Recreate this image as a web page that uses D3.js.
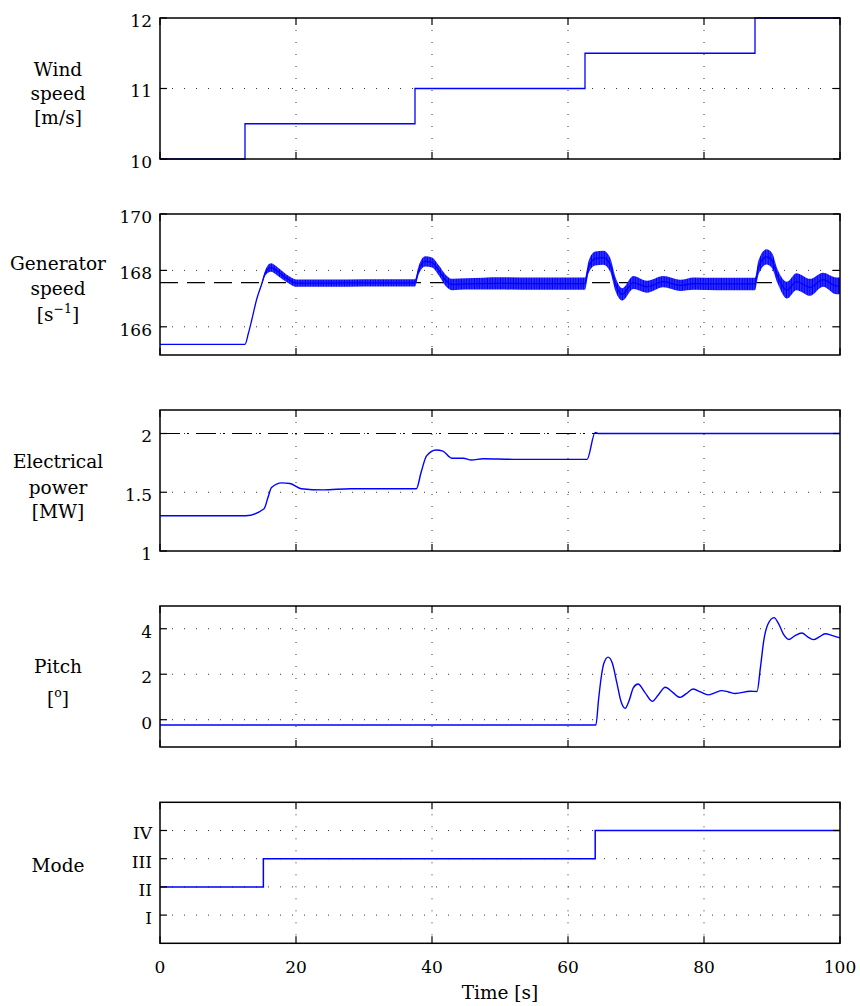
<!DOCTYPE html>
<html><head><meta charset="utf-8">
<script src="https://cdn.jsdelivr.net/npm/d3@7"></script>
<style>body{margin:0;background:#fff}svg{display:block}</style>
</head><body>
<script>
// ---------------- DATA ----------------
const xTicks = [0, 20, 40, 60, 80, 100];

// Wind speed [m/s] (steps)
const windTime = [0, 12.5, 37.5, 62.5, 87.5, 100];
const windSpeed = [10, 10.5, 11, 11.5, 12, 12];
const windTicks = [10, 11, 12];

// Generator speed [1/s]: centre of trace and half-width of the oscillation band
const genTime  = [0, 12.5, 13.0, 13.5, 14.2, 15.0, 15.5, 16.3, 17.2, 18.1, 19.0, 20.0, 25, 30, 37.5, 38.0, 39.0, 40.0, 41.0, 42.0, 43.0, 45, 50, 55, 62.5, 63.0, 64.0, 65.2, 66.2, 67.0, 68.0, 69.6, 71.6, 74.0, 76.5, 78.5, 82, 87.5, 88.0, 89.2, 90.0, 90.8, 92.2, 93.6, 95.6, 97.5, 99.5, 100];
const genSpeed = [165.38, 165.38, 165.77, 166.25, 166.96, 167.55, 167.92, 168.10, 167.98, 167.81, 167.66, 167.55, 167.55, 167.56, 167.56, 167.98, 168.32, 168.28, 168.0, 167.65, 167.5, 167.52, 167.54, 167.53, 167.53, 168.1, 168.42, 168.45, 168.2, 167.5, 167.15, 167.57, 167.42, 167.6, 167.47, 167.53, 167.52, 167.52, 168.1, 168.48, 168.35, 167.8, 167.3, 167.6, 167.4, 167.67, 167.45, 167.45];
const genBand  = [0, 0, 0, 0, 0, 0.05, 0.1, 0.15, 0.15, 0.14, 0.13, 0.13, 0.13, 0.13, 0.13, 0.15, 0.18, 0.18, 0.18, 0.2, 0.2, 0.2, 0.22, 0.22, 0.22, 0.22, 0.25, 0.25, 0.25, 0.25, 0.22, 0.23, 0.21, 0.2, 0.2, 0.22, 0.22, 0.22, 0.25, 0.27, 0.27, 0.25, 0.3, 0.3, 0.3, 0.25, 0.3, 0.3];
const genRef = 167.57;
const genTicks = [166, 168, 170];

// Electrical power [MW]
const powTime  = [0, 12.6, 15.3, 15.9, 16.4, 17.9, 19.1, 20.8, 24, 28, 37.7, 38.4, 39.2, 40.6, 41.6, 42.9, 44.6, 45.8, 47.5, 52, 62.8, 64.0, 64.4, 100];
const powValue = [1.30, 1.30, 1.36, 1.46, 1.54, 1.58, 1.575, 1.53, 1.52, 1.53, 1.53, 1.67, 1.81, 1.86, 1.85, 1.79, 1.79, 1.775, 1.785, 1.78, 1.78, 2.01, 2.0, 2.0];
const powRated = 2.0;
const powTicks = [1, 1.5, 2];

// Pitch [deg]
const pitchTime  = [0, 64.1, 64.5, 64.9, 65.3, 65.9, 66.5, 67.2, 67.8, 68.4, 69.0, 69.6, 70.3, 71.3, 72.4, 73.3, 74.3, 75.4, 76.5, 77.4, 78.4, 79.5, 80.6, 81.6, 82.6, 83.6, 84.6, 86.8, 87.8, 88.3, 88.8, 89.4, 90.3, 91.0, 91.7, 92.5, 93.4, 94.4, 95.2, 96.1, 97.0, 97.8, 98.9, 100];
const pitchValue = [-0.23, -0.23, 0.9, 1.9, 2.5, 2.75, 2.5, 1.6, 0.8, 0.5, 0.85, 1.4, 1.57, 1.2, 0.81, 1.1, 1.43, 1.2, 0.98, 1.15, 1.35, 1.22, 1.09, 1.18, 1.28, 1.22, 1.15, 1.25, 1.24, 2.3, 3.5, 4.2, 4.49, 4.2, 3.75, 3.53, 3.7, 3.81, 3.65, 3.52, 3.65, 3.78, 3.7, 3.6];
const pitchTicks = [0, 2, 4];

// Mode
const modeTime  = [0, 15.2, 64.0, 100];
const modeValue = [2, 3, 4, 4];
const modeTicks = [1, 2, 3, 4];
const modeLabels = ["I", "II", "III", "IV"];

// ---------------- LAYOUT ----------------
const W = 860, H = 1006;
const X0 = 160, X1 = 840;
const panelTop = [18, 214, 410, 606, 802.3];
const PH = 141;
const FONT = "'DejaVu Serif', 'Liberation Serif', serif";
const TICK_FS = 17, LAB_FS = 18.5;
const BLUE = "#0000ff";

const svg = d3.select("body").append("svg").attr("width", W).attr("height", H);
const defs = svg.append("defs");
const pat = defs.append("pattern").attr("id", "osc").attr("patternUnits", "userSpaceOnUse")
  .attr("width", 2.6).attr("height", 20);
pat.append("rect").attr("x", 0).attr("y", 0).attr("width", 2.6).attr("height", 20).attr("fill", "#4d4dff");
pat.append("rect").attr("x", 0.4).attr("y", 0).attr("width", 1.6).attr("height", 20).attr("fill", BLUE);

const x = d3.scaleLinear().domain([0, 100]).range([X0, X1]);

function panel(i, domain, ticks, tickFmt, labels, labelDy) {
  const top = panelTop[i], bot = top + PH;
  const y = d3.scaleLinear().domain(domain).range([bot, top]);
  const g = svg.append("g");
  // grid
  const grid = g.append("g").attr("stroke", "#333").attr("stroke-width", 1).attr("stroke-dasharray", "1,11");
  xTicks.filter(t => t > 0 && t < 100).forEach(t => {
    grid.append("line").attr("x1", x(t)).attr("x2", x(t)).attr("y1", top).attr("y2", bot);
  });
  ticks.filter(t => y(t) > top + 0.5 && y(t) < bot - 0.5).forEach(t => {
    grid.append("line").attr("x1", X0).attr("x2", X1).attr("y1", y(t)).attr("y2", y(t));
  });
  // y tick labels
  ticks.forEach((t, k) => {
    g.append("text").attr("x", 152).attr("y", y(t) + 8.8).attr("text-anchor", "end")
      .attr("font-family", FONT).attr("font-size", TICK_FS).text(tickFmt(t, k));
  });
  // y label
  const lab = g.append("text").attr("font-family", FONT).attr("font-size", LAB_FS).attr("text-anchor", "middle");
  labels.forEach((l, k) => {
    const ts = lab.append("tspan").attr("x", 58).attr("y", top + labelDy[k]);
    if (typeof l === "string") ts.text(l);
    else {
      ts.append("tspan").text(l[0]);
      ts.append("tspan").attr("dy", -8).attr("font-size", 12.5).text(l[1]);
      ts.append("tspan").attr("dy", 8).text(l[2]);
    }
  });
  return { g, y, top, bot };
}

function frame(p, ticks) {
  const { g, y, top, bot } = p;
  const tk = g.append("g").attr("stroke", "#000").attr("stroke-width", 1.2);
  ticks.forEach(t => {
    tk.append("line").attr("x1", X0).attr("x2", X0 + 7).attr("y1", y(t)).attr("y2", y(t));
    tk.append("line").attr("x1", X1).attr("x2", X1 - 7).attr("y1", y(t)).attr("y2", y(t));
  });
  xTicks.forEach(t => {
    tk.append("line").attr("x1", x(t)).attr("x2", x(t)).attr("y1", top).attr("y2", top + 7);
    tk.append("line").attr("x1", x(t)).attr("x2", x(t)).attr("y1", bot).attr("y2", bot - 7);
  });
  g.append("rect").attr("x", X0).attr("y", top).attr("width", X1 - X0).attr("height", bot - top)
    .attr("fill", "none").attr("stroke", "#000").attr("stroke-width", 1.5);
}

const num = t => String(t);

// Panel 1: wind
const p1 = panel(0, [10, 12], windTicks, num, ["Wind", "speed", "[m/s]"], [58, 82, 106]);
p1.g.append("path").datum(windTime.map((t, k) => [t, windSpeed[k]]))
  .attr("d", d3.line().x(d => x(d[0])).y(d => p1.y(d[1])).curve(d3.curveStepAfter))
  .attr("fill", "none").attr("stroke", BLUE).attr("stroke-width", 1.3);
frame(p1, windTicks);

// Panel 2: generator speed
const p2 = panel(1, [165, 170], genTicks, num, ["Generator", "speed", ["[s", "−1", "]"]], [56, 81, 107]);
p2.g.append("line").attr("x1", x(0)).attr("x2", x(100)).attr("y1", p2.y(genRef)).attr("y2", p2.y(genRef))
  .attr("stroke", "#000").attr("stroke-width", 1.2).attr("stroke-dasharray", "18,9");
const genData = genTime.map((t, k) => ({ t, v: genSpeed[k], b: genBand[k] }));
p2.g.append("path").datum(genData)
  .attr("d", d3.area().x(d => x(d.t)).y0(d => p2.y(d.v - d.b)).y1(d => p2.y(d.v + d.b)).curve(d3.curveMonotoneX))
  .attr("fill", "url(#osc)");
p2.g.append("path").datum(genData)
  .attr("d", d3.line().x(d => x(d.t)).y(d => p2.y(d.v)).curve(d3.curveMonotoneX))
  .attr("fill", "none").attr("stroke", BLUE).attr("stroke-width", 1.3);
frame(p2, genTicks);

// Panel 3: electrical power
const p3 = panel(2, [1, 2.2], powTicks, num, ["Electrical", "power", "[MW]"], [58, 84, 108]);
p3.g.append("line").attr("x1", x(0)).attr("x2", x(100)).attr("y1", p3.y(powRated)).attr("y2", p3.y(powRated))
  .attr("stroke", "#000").attr("stroke-width", 1.2).attr("stroke-dasharray", "20,7,2,7");
p3.g.append("path").datum(powTime.map((t, k) => [t, powValue[k]]))
  .attr("d", d3.line().x(d => x(d[0])).y(d => p3.y(d[1])).curve(d3.curveMonotoneX))
  .attr("fill", "none").attr("stroke", BLUE).attr("stroke-width", 1.4);
frame(p3, powTicks);

// Panel 4: pitch
const p4 = panel(3, [-1.2, 5], pitchTicks, num, ["Pitch", ["[", "o", "]"]], [67, 99]);
p4.g.append("path").datum(pitchTime.map((t, k) => [t, pitchValue[k]]))
  .attr("d", d3.line().x(d => x(d[0])).y(d => p4.y(d[1])).curve(d3.curveMonotoneX))
  .attr("fill", "none").attr("stroke", BLUE).attr("stroke-width", 1.4);
frame(p4, pitchTicks);

// Panel 5: mode
const p5 = panel(4, [0, 5], modeTicks, (t, k) => modeLabels[k], ["Mode"], [70]);
p5.g.append("path").datum(modeTime.map((t, k) => [t, modeValue[k]]))
  .attr("d", d3.line().x(d => x(d[0])).y(d => p5.y(d[1])).curve(d3.curveStepAfter))
  .attr("fill", "none").attr("stroke", BLUE).attr("stroke-width", 1.5);
frame(p5, modeTicks);

// x tick labels & title
xTicks.forEach(t => {
  svg.append("text").attr("x", x(t)).attr("y", 973).attr("text-anchor", "middle")
    .attr("font-family", FONT).attr("font-size", TICK_FS).text(t);
});
svg.append("text").attr("x", x(50)).attr("y", 999).attr("text-anchor", "middle")
  .attr("font-family", FONT).attr("font-size", LAB_FS).text("Time [s]");
</script>
</body></html>
